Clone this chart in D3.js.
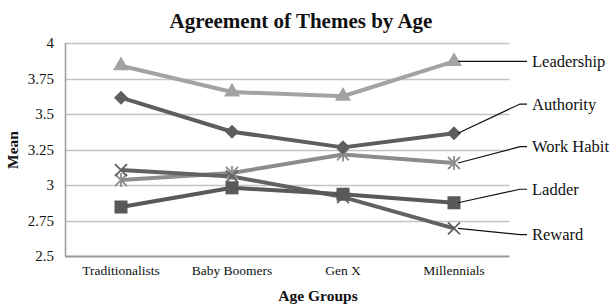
<!DOCTYPE html>
<html><head><meta charset="utf-8">
<script src="https://cdn.jsdelivr.net/npm/d3@7"></script>
<style>body{margin:0;background:#fff}svg{display:block}text{font-family:"Liberation Serif","Times New Roman",serif}</style>
</head><body>
<script>
const categories = ["Traditionalists","Baby Boomers","Gen X","Millennials"];
const yTicks = [2.5,2.75,3,3.25,3.5,3.75,4];
const yTickLabels = ["2.5","2.75","3","3.25","3.5","3.75","4"];
const seriesNames = ["Leadership","Authority","Work Habit","Ladder","Reward"];
const leadership = [3.84,3.655,3.625,3.87];
const authority = [3.615,3.375,3.265,3.365];
const workHabit = [3.035,3.085,3.215,3.155];
const ladder = [2.845,2.98,2.935,2.875];
const reward = [3.105,3.06,2.915,2.695];
const labelValues = [3.87,3.57,3.27,2.97,2.65];

const colors = {"Leadership":"#a3a3a3","Authority":"#5e5e5e","Work Habit":"#8c8c8c","Ladder":"#595959","Reward":"#626262"};
const markers = {"Leadership":"triangle","Authority":"diamond","Work Habit":"asterisk","Ladder":"square","Reward":"x"};
const data = {"Leadership":leadership,"Authority":authority,"Work Habit":workHabit,"Ladder":ladder,"Reward":reward};

const W=612,H=306;
const svg=d3.select("body").append("svg").attr("width",W).attr("height",H);
const x=d3.scalePoint().domain(categories).range([65.5,509.5]).padding(0.5);
const y=d3.scaleLinear().domain([2.5,4]).range([256,43]);

svg.append("g").selectAll("line").data(yTicks.slice(1)).join("line")
  .attr("x1",65.5).attr("x2",509.5).attr("y1",d=>Math.round(y(d))+0.5).attr("y2",d=>Math.round(y(d))+0.5)
  .attr("stroke","#c4c4c4").attr("stroke-width",1.5);
svg.append("line").attr("x1",65.5).attr("x2",65.5).attr("y1",43).attr("y2",256.5).attr("stroke","#9a9a9a").attr("stroke-width",1.5);
svg.append("line").attr("x1",65).attr("x2",509.5).attr("y1",256.5).attr("y2",256.5).attr("stroke","#9a9a9a").attr("stroke-width",2);

svg.append("g").selectAll("text").data(yTicks).join("text")
  .attr("x",54).attr("y",d=>y(d)+5).attr("text-anchor","end").attr("font-size",15).attr("fill","#111")
  .text((d,i)=>yTickLabels[i]);
svg.append("g").selectAll("text").data(categories).join("text")
  .attr("x",d=>x(d)).attr("y",275).attr("text-anchor","middle").attr("font-size",13.5).attr("fill","#111")
  .text(d=>d);

svg.append("text").attr("x",301).attr("y",28).attr("text-anchor","middle").attr("font-size",21).attr("font-weight","bold").attr("fill","#111").text("Agreement of Themes by Age");
svg.append("text").attr("x",318).attr("y",301).attr("text-anchor","middle").attr("font-size",15.5).attr("font-weight","bold").attr("fill","#111").text("Age Groups");
svg.append("text").attr("transform","translate(18,150) rotate(-90)").attr("text-anchor","middle").attr("font-size",15.5).attr("font-weight","bold").attr("fill","#111").text("Mean");

const line=d3.line().x((d,i)=>x(categories[i])).y(d=>y(d));
const order=["Work Habit","Leadership","Reward","Ladder","Authority"];
order.forEach(name=>{
  svg.append("path").datum(data[name]).attr("d",line).attr("fill","none")
    .attr("stroke",colors[name]).attr("stroke-width",4).attr("stroke-linejoin","round");
});
function drawMarker(g,type,cx,cy,c){
  if(type==="triangle") g.append("path").attr("d",d3.symbol(d3.symbolTriangle,110)()).attr("transform",`translate(${cx},${cy})`).attr("fill",c);
  else if(type==="diamond") g.append("path").attr("d",`M0,-7L7,0L0,7L-7,0Z`).attr("transform",`translate(${cx},${cy})`).attr("fill",c);
  else if(type==="square") g.append("rect").attr("x",cx-6.5).attr("y",cy-6.5).attr("width",13).attr("height",13).attr("fill",c);
  else if(type==="x"){ g.append("path").attr("d","M-6,-6L6,6M-6,6L6,-6").attr("transform",`translate(${cx},${cy})`).attr("stroke",c).attr("stroke-width",1.8).attr("fill","none"); }
  else if(type==="asterisk"){ g.append("path").attr("d","M-6,-6L6,6M-6,6L6,-6M0,-7L0,7").attr("transform",`translate(${cx},${cy})`).attr("stroke",c).attr("stroke-width",1.8).attr("fill","none"); }
}
order.forEach(name=>{
  const g=svg.append("g");
  data[name].forEach((v,i)=>drawMarker(g,markers[name],x(categories[i]),y(v),colors[name]));
});

const lx=x(categories[3]);
seriesNames.forEach((name,i)=>{
  const vy=y(data[name][3]);
  const ly=y(labelValues[i]);
  svg.append("path").attr("d",`M${lx+4},${vy}L520,${ly}L527,${ly}`).attr("fill","none").attr("stroke","#111").attr("stroke-width",1.2);
  svg.append("text").attr("x",532).attr("y",ly+5.5).attr("font-size",16.5).attr("fill","#111").text(name);
});
</script>
</body></html>
